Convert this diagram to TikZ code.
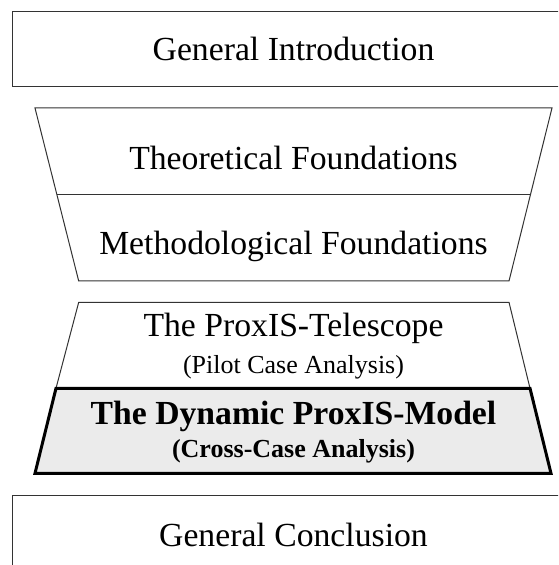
\documentclass[tikz,border=0pt]{standalone}
\usepackage{fontspec}
\setmainfont{Liberation Serif}
\begin{document}
\begin{tikzpicture}[x=1pt,y=1pt,
  txt/.style={inner sep=0pt, anchor=base},
  big/.style={txt, font=\fontsize{33.7}{40}\selectfont},
  small/.style={txt, font=\fontsize{26}{30}\selectfont},
  bigbold/.style={txt, font=\fontsize{33.7}{40}\selectfont\bfseries},
  smallbold/.style={txt, font=\fontsize{26}{30}\selectfont\bfseries},
  thinline/.style={draw=black!80, line width=1pt, line join=miter},
  boldline/.style={draw=black, line width=3pt, line join=miter, fill=black!8}]
\useasboundingbox (0,0) rectangle (558,565);
\clip (0,0) rectangle (558,565);
% top box (cropped at right)
\draw[thinline] (600,553) -- (12.3,553) -- (12.3,478.3) -- (600,478.3);
% bottom box (cropped at right and bottom)
\draw[thinline] (600,69.7) -- (12.3,69.7) -- (12.3,-20);
% upper funnel
\draw[thinline] (35,457) -- (552,457) -- (509,284) -- (78.7,284) -- cycle;
\draw[thinline] (57,370.7) -- (530.6,370.7);
% lower funnel
\draw[thinline] (78.7,262.7) -- (509,262.7) -- (530,176.7) -- (56,176.7) -- cycle;
\draw[boldline] (56,176.7) -- (530,176.7) -- (551,91.7) -- (35,91.7) -- cycle;
% texts
\node[big] (intro) at (293.5,504) {General Introduction};
\node[big] (theo) at (293.5,395.5) {Theoretical Foundations};
\node[big] (meth) at (293.5,310.5) {Methodological Foundations};
\node[big] (tele) at (293.5,228.5) {The ProxIS-Telescope};
\node[small] (pilot) at (293.5,191.5) {(Pilot Case Analysis)};
\node[bigbold] (dyn) at (293.5,140.5) {The Dynamic ProxIS-Model};
\node[smallbold] (cross) at (293.5,107) {(Cross-Case Analysis)};
\node[big] (concl) at (293.5,18.5) {General Conclusion};
\end{tikzpicture}
\end{document}
